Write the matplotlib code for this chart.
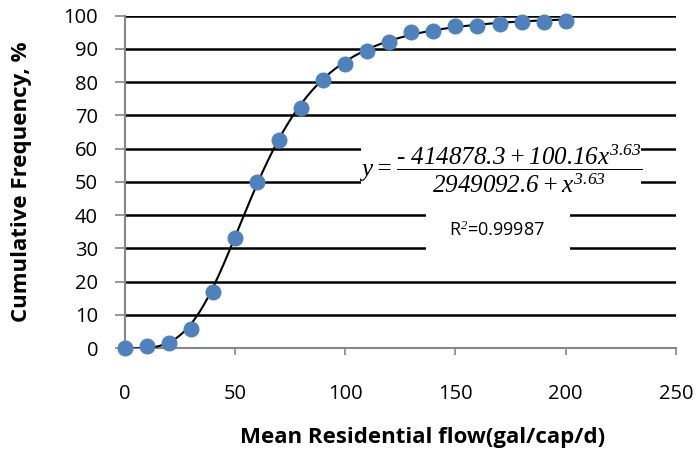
import numpy as np
import matplotlib
matplotlib.use("Agg")
import matplotlib.pyplot as plt
from matplotlib.patches import Rectangle

# Data
flow = [0, 10, 20, 30, 40, 50, 60, 70, 80, 90, 100, 110, 120, 130, 140, 150, 160, 170, 180, 190, 200]
cum_freq = [0.0, 0.6, 1.6, 5.7, 16.9, 33.2, 49.9, 62.5, 72.2, 80.8, 85.4, 89.3, 92.1, 95.2, 95.5, 96.8, 96.8, 97.5, 98.0, 98.0, 98.3]
# fitted model parameters (shown on the chart)
a, b, c, p = -414878.3, 100.16, 2949092.6, 3.63
r2_text = "R$^2$=0.99987"
xticks = [0, 50, 100, 150, 200, 250]
yticks = list(range(0, 101, 10))

plt.rcParams['mathtext.fontset'] = 'custom'
plt.rcParams['mathtext.rm'] = 'Liberation Serif:italic'
plt.rcParams['mathtext.it'] = 'Liberation Serif:italic'
plt.rcParams['mathtext.bf'] = 'Liberation Serif:italic:bold'
sans = 'Open Sans'

fig = plt.figure(figsize=(6.99, 4.49), dpi=100)
ax = fig.add_axes([124.5/699, 1-348/449, (676-124.5)/699, (348-15.7)/449])

ax.set_xlim(0, 250)
ax.set_ylim(0, 100)

for y in yticks[1:]:
    ax.axhline(y, color='black', lw=1.8, zorder=1)

xf = np.linspace(0, 200, 400)
yf = (a + b * xf**p) / (c + xf**p)
ax.plot(xf, yf, color='black', lw=1.5, zorder=3)
ax.plot(flow, cum_freq, 'o', color='#4F81BD', ms=10.5, mec='#4F81BD', zorder=4, clip_on=False)

# white boxes behind the annotation texts
ax.add_patch(Rectangle((107, 45), 127, 22, facecolor='white', edgecolor='none', zorder=2))
ax.add_patch(Rectangle((136.6, 26), 65.3, 18.5, facecolor='white', edgecolor='none', zorder=2))

eq = r'$y = \dfrac{\text{- }414878.3 + 100.16x^{3.63}}{2949092.6 + x^{3.63}}$'
ax.text(170.6, 54.0, eq, ha='center', va='center', fontsize=18, zorder=5)
ax.text(169, 35.3, r2_text, ha='center', va='center', fontsize=13, family=sans, zorder=5)

for s in ['top', 'right']:
    ax.spines[s].set_visible(False)
for s in ['left', 'bottom']:
    ax.spines[s].set_color('#868686')
    ax.spines[s].set_linewidth(1.5)
    ax.spines[s].set_zorder(2)

ax.set_xticks(xticks)
ax.set_yticks(yticks)
ax.tick_params(axis='x', direction='out', length=5, width=1.2, color='#868686', pad=21,
               labelsize=14.5)
ax.tick_params(axis='y', direction='out', length=7, width=1.2, color='#868686', pad=12,
               labelsize=14.5)
for lab in ax.get_xticklabels() + ax.get_yticklabels():
    lab.set_family(sans)

fig.text(22/699, 1-182/449, 'Cumulative Frequency, %', rotation=90, ha='center', va='center',
         fontsize=16, fontweight='bold', family=sans)
fig.text(423/699, 1-437/449, 'Mean Residential flow(gal/cap/d)', ha='center', va='center',
         fontsize=16, fontweight='bold', family=sans)

fig.savefig('out.png', dpi=100)
